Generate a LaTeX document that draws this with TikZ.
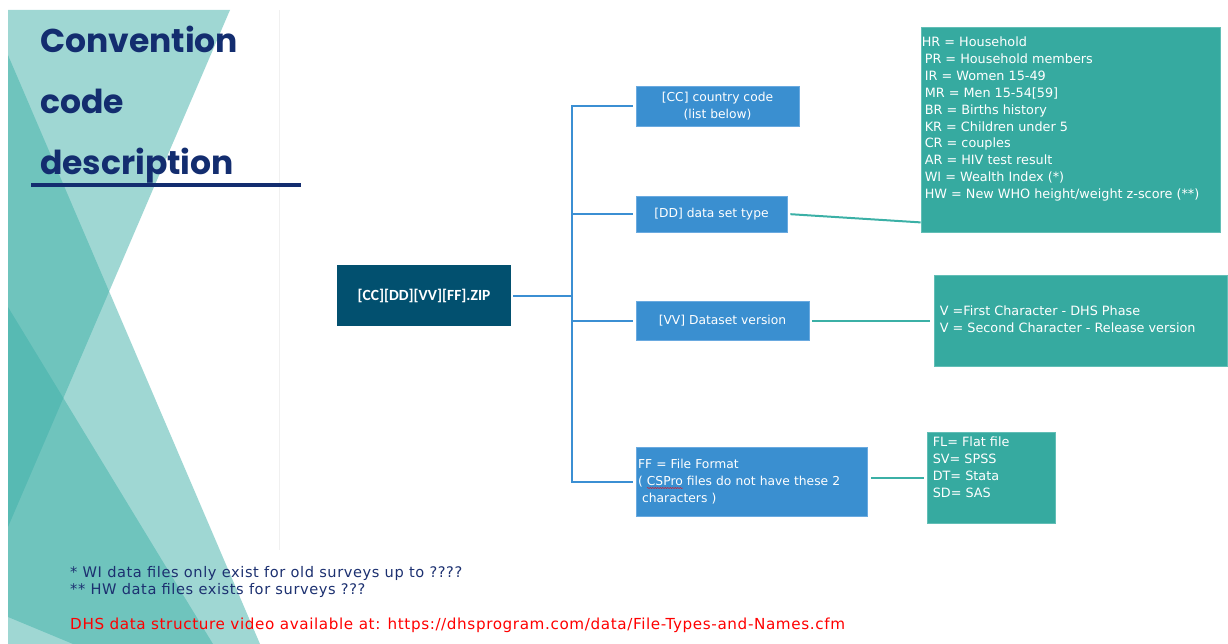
\documentclass[tikz,border=0pt]{standalone}
\usepackage{fontspec}
\setmainfont{DejaVu Sans}
\newfontfamily\headfont{Poppins}
\newfontfamily\zipfont{Carlito}
\newfontfamily\notefont[LetterSpace=4]{DejaVu Sans}
\usetikzlibrary{positioning, decorations.pathmorphing}

\definecolor{bgteal}{HTML}{40B0A8}
\definecolor{titlenavy}{HTML}{132D6F}
\definecolor{zipblue}{HTML}{02506F}
\definecolor{codeblue}{HTML}{3A8FD0}
\definecolor{codeedge}{HTML}{6AAAE0}
\definecolor{listteal}{HTML}{36AAA0}
\definecolor{listedge}{HTML}{62BEB6}
\definecolor{treeblue}{HTML}{3B8FD3}
\definecolor{linkteal}{HTML}{3BB0A6}
\definecolor{notenavy}{HTML}{1C3070}

\tikzset{
  shade/.style={fill=bgteal, fill opacity=0.5, draw=none},
  zipbox/.style={fill=zipblue, text=white, font=\zipfont\bfseries\fontsize{15.5}{18}\selectfont, inner sep=0pt},
  codebox/.style={fill=codeblue, draw=codeedge, line width=0.8pt, text=white, font=\fontsize{12.3}{17}\selectfont, inner sep=0pt, align=center},
  listbox/.style={fill=listteal, draw=listedge, line width=0.8pt, inner sep=0pt},
  listtext/.style={text=white, font=\fontsize{12.8}{16.9}\selectfont, align=left, inner sep=0pt},
  branch/.style={draw=treeblue, line width=2pt},
  link/.style={draw=linkteal, line width=2pt},
  note/.style={font=\notefont\fontsize{14.6}{17}\selectfont, text=notenavy, inner sep=0pt, anchor=base west}
}

\begin{document}
\begin{tikzpicture}[x=1pt, y=-1pt]
  \useasboundingbox (0,0) rectangle (1228,644);
  % background triangles
  \fill[shade] (8,10) -- (230,10) -- (8,527) -- cycle;
  \fill[shade] (8,55) -- (260,644) -- (8,644) -- cycle;
  \fill[shade] (8,307) -- (213,644) -- (73,644) -- (8,617) -- cycle;
  \draw[black!6] (279,10) -- (279,550);

  % title
  \node[font=\headfont\bfseries\fontsize{33}{61}\selectfont, text=titlenavy, align=left, inner sep=0pt, anchor=base west] (title) at (40,175) {Convention\\code\\description};
  \draw[titlenavy, line width=4pt] (31,185) -- (301,185);

  % file name and its parts
  \node[zipbox, minimum width=174pt, minimum height=61pt] (zip) at (424,295.5) {[CC][DD][VV][FF].ZIP};
  \node[codebox, minimum width=163pt, minimum height=40pt] (cc) at (717.5,106) {[CC] country code\\(list below)};
  \node[codebox, minimum width=151pt, minimum height=36pt] (dd) at (711.5,214) {[DD] data set type};
  \node[codebox, minimum width=173pt, minimum height=39pt] (vv) at (722.5,320.5) {[VV] Dataset version};
  \node[codebox, minimum width=231pt, minimum height=69pt, text width=227pt, align=left] (ff) at (751.5,481.5) {FF = File Format\\( CSPro files do not have these 2\\ \ characters )};

  \coordinate (fork) at (572,295.5);
  \draw[branch, shorten <=2pt] (zip) -- (fork);
  \draw[branch, shorten >=3pt] (fork) |- (cc.west);
  \draw[branch, shorten >=3pt] (fork) |- (dd.west);
  \draw[branch, shorten >=3pt] (fork) |- (vv.west);
  \draw[branch, shorten >=3pt] (fork) |- (ff.west);

  % value lists
  \node[listbox, minimum width=299pt, minimum height=205pt] (hrbox) at (1070.5,129.5) {};
  \node[listtext, below right=10pt and 4pt of hrbox.north west] (hrtext) {\hspace*{-3pt}HR = Household\\PR = Household members\\IR = Women 15-49\\MR = Men 15-54[59]\\BR = Births history\\KR = Children under 5\\CR = couples\\AR = HIV test result\\WI = Wealth Index (*)\\HW = New WHO height/weight z-score (**)};
  \node[listbox, minimum width=293pt, minimum height=91pt] (vbox) at (1080.5,320.5) {};
  \node[listtext, below right=31pt and 6pt of vbox.north west] (vtext) {V =First Character - DHS Phase\\V = Second Character - Release version};
  \node[listbox, minimum width=128pt, minimum height=91pt] (ftbox) at (991,477.5) {};
  \node[listtext, below right=5pt and 6pt of ftbox.north west] (fttext) {FL= Flat file\\SV= SPSS\\DT= Stata\\SD= SAS};

  \coordinate[above=10pt of hrbox.south west] (hr-in);
  \draw[link, shorten <=3pt] (dd.east) -- (hr-in);
  \draw[link, shorten <=3pt, shorten >=4pt] (vv) -- (vbox);
  \draw[link, shorten <=4pt, shorten >=3pt] (ff.east |- ftbox.west) -- (ftbox.west);
  \draw[red, decorate, decoration={snake, amplitude=0.5pt, segment length=2.5pt}] (647,488) -- (683,488);

  % notes
  \node[note] (note-wi) at (70,577) {* WI data files only exist for old surveys up to ????};
  \node[note] (note-hw) at (70,594) {** HW data files exists for surveys ???};
  \node[note, text=red, font=\notefont\fontsize{15.2}{17}\selectfont] (note-link) at (70,629) {DHS data structure video available at: https://dhsprogram.com/data/File-Types-and-Names.cfm};
\end{tikzpicture}
\end{document}
